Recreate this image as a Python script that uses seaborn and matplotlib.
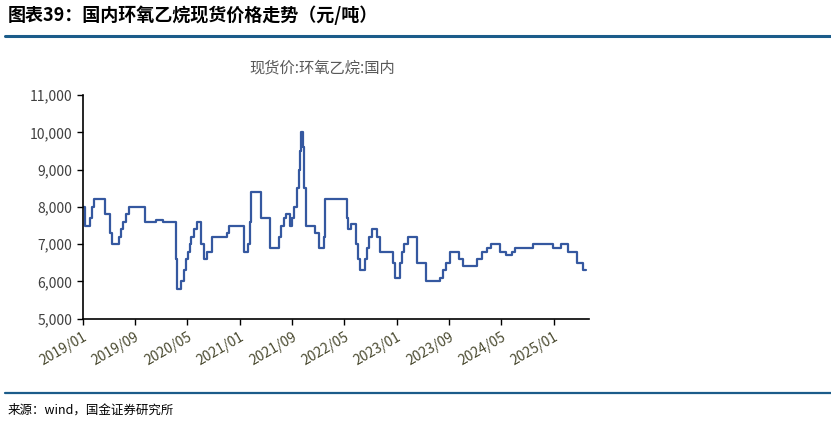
import matplotlib
matplotlib.use("Agg")
import matplotlib.pyplot as plt
import matplotlib.dates as mdates
import seaborn as sns
import pandas as pd

# change points of the weekly spot price, yuan/ton
dates = [
    "2019-01-01", "2019-01-12", "2019-02-05", "2019-02-12", "2019-02-24",
    "2019-04-16", "2019-05-09", "2019-05-17", "2019-06-22", "2019-07-01",
    "2019-07-10", "2019-07-21", "2019-08-05", "2019-10-20", "2019-12-10",
    "2020-01-12", "2020-03-12", "2020-03-15", "2020-04-05", "2020-04-15",
    "2020-04-27", "2020-05-06", "2020-05-14", "2020-05-21", "2020-06-02",
    "2020-06-17", "2020-07-06", "2020-07-18", "2020-08-03", "2020-08-23",
    "2020-11-01", "2020-11-10", "2021-01-21", "2021-02-09", "2021-02-17",
    "2021-02-24", "2021-04-12", "2021-05-24", "2021-07-03", "2021-07-12",
    "2021-07-24", "2021-08-02", "2021-08-21", "2021-09-01", "2021-09-12",
    "2021-09-24", "2021-10-03", "2021-10-10", "2021-10-15", "2021-10-21",
    "2021-10-28", "2021-11-06", "2021-12-17", "2022-01-06", "2022-01-27",
    "2022-02-03", "2022-05-15", "2022-05-21", "2022-06-01", "2022-06-27",
    "2022-07-03", "2022-07-15", "2022-08-06", "2022-08-18", "2022-08-27",
    "2022-09-06", "2022-10-03", "2022-10-15", "2022-12-15", "2022-12-24",
    "2023-01-14", "2023-01-24", "2023-02-06", "2023-02-21", "2023-04-06",
    "2023-05-15", "2023-07-21", "2023-08-06", "2023-08-18", "2023-09-06",
    "2023-10-18", "2023-11-06", "2024-01-09", "2024-02-01", "2024-02-24",
    "2024-03-15", "2024-04-24", "2024-05-21", "2024-06-18", "2024-07-03",
    "2024-09-27", "2024-12-27", "2025-02-01", "2025-03-09", "2025-04-18",
    "2025-05-18", "2025-05-31",
]
prices = [
    8000, 7500, 7700, 8000, 8200,
    7800, 7300, 7000, 7200, 7400,
    7600, 7800, 8000, 7600, 7650,
    7600, 6600, 5800, 6000, 6300,
    6600, 6800, 7000, 7200, 7400,
    7600, 7000, 6600, 6800, 7200,
    7300, 7500, 6800, 7000, 7600,
    8400, 7700, 6900, 7200, 7500,
    7700, 7800, 7500, 7700, 8000,
    8500, 9000, 9500, 10000, 9600,
    8500, 7500, 7300, 6900, 7200,
    8200, 7700, 7400, 7550, 7000,
    6600, 6300, 6600, 6900, 7200,
    7400, 7200, 6800, 6500, 6100,
    6500, 6800, 7000, 7200, 6500,
    6000, 6100, 6300, 6500, 6800,
    6600, 6400, 6600, 6800, 6900,
    7000, 6800, 6700, 6800, 6900,
    7000, 6900, 7000, 6800, 6500,
    6300, 6300,
]
tick_dates = ["2019-01-01", "2019-09-01", "2020-05-01", "2021-01-01", "2021-09-01",
              "2022-05-01", "2023-01-01", "2023-09-01", "2024-05-01", "2025-01-01"]
tick_labels = ["2019/01", "2019/09", "2020/05", "2021/01", "2021/09",
               "2022/05", "2023/01", "2023/09", "2024/05", "2025/01"]
y_ticks = [5000, 6000, 7000, 8000, 9000, 10000, 11000]

df = pd.DataFrame({"date": pd.to_datetime(dates), "price": prices})

sns.set_style("white")
plt.rcParams["font.family"] = ["Noto Sans CJK SC", "DejaVu Sans"]

fig = plt.figure(figsize=(8.31, 4.24), dpi=100)
ax = fig.add_axes([82.5 / 831, 1 - 318.6 / 424, (589 - 82.5) / 831, (318.6 - 95.2) / 424])

sns.lineplot(data=df, x="date", y="price", ax=ax, color="#3558a0", linewidth=1.6,
             drawstyle="steps-post")

ax.set_ylim(5000, 11000)
ax.set_xlim(pd.Timestamp("2019-01-01"), pd.Timestamp("2025-06-13"))
ax.set_yticks(y_ticks)
ax.set_yticklabels([f"{v:,}" for v in y_ticks], color="#404040", fontsize=10)
ax.set_xticks(pd.to_datetime(tick_dates))
ax.set_xticklabels(tick_labels, rotation=30, ha="right", rotation_mode="anchor",
                   color="#4a4a30", fontsize=10)
ax.set_xlabel("")
ax.set_ylabel("")
ax.tick_params(axis="both", direction="out", length=4, width=1, color="black",
               left=True, bottom=True)
ax.tick_params(axis="x", pad=4)
for side in ["top", "right"]:
    ax.spines[side].set_visible(False)
for side in ["left", "bottom"]:
    ax.spines[side].set_color("black")
    ax.spines[side].set_linewidth(1.2)

fig.text(322 / 831, 1 - 68 / 424, "现货价:环氧乙烷:国内", ha="center", va="center",
         fontsize=11, color="#595959")

fig.text(8 / 831, 1 - 15 / 424, "图表39：国内环氧乙烷现货价格走势（元/吨）", ha="left",
         va="center", fontsize=13, fontweight="bold", fontstyle="italic", color="black")
fig.add_artist(plt.Line2D([5 / 831, 1], [1 - 35.5 / 424] * 2, color="#1b5c8a",
                          linewidth=2.2))
fig.add_artist(plt.Line2D([5 / 831, 1], [1 - 393 / 424] * 2, color="#1b5c8a",
                          linewidth=1.6))
fig.text(8 / 831, 1 - 410 / 424, "来源：wind，国金证券研究所", ha="left", va="center",
         fontsize=9, color="black")

fig.savefig("out.png", dpi=100)
